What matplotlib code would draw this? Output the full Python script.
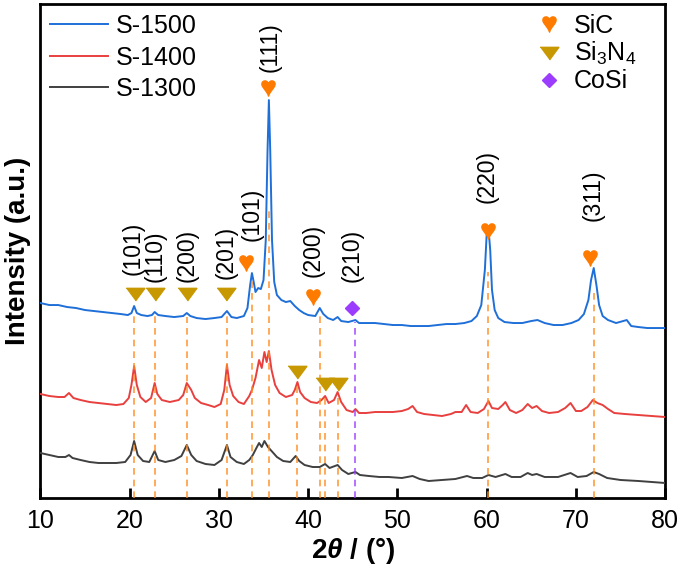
import matplotlib
matplotlib.use('Agg')
import matplotlib.pyplot as plt
from matplotlib.lines import Line2D

plt.rcParams['font.family'] = ['Liberation Sans', 'DejaVu Sans']
plt.rcParams['mathtext.fontset'] = 'custom'
plt.rcParams['mathtext.rm'] = 'Liberation Sans'
plt.rcParams['mathtext.it'] = 'Liberation Sans:italic:bold'

# S-1500 (blue)
tt_1500 = [10.0, 11.0, 12.0, 13.0, 14.0, 15.0, 16.0, 17.0, 18.0, 19.0, 19.8, 20.2, 20.5, 20.8,
           21.3, 22.0, 22.5, 22.8, 23.2, 24.0, 25.0, 26.0, 26.4, 26.8, 27.5, 28.5, 29.5, 30.3,
           30.9, 31.4, 32.0, 32.8, 33.2, 33.5, 33.7, 33.9, 34.1, 34.4, 34.7, 35.0, 35.25, 35.45,
           35.6, 35.75, 35.95, 36.2, 36.5, 37.0, 37.5, 38.0, 38.5, 39.0, 39.5, 40.0, 40.8, 41.3,
           41.7, 42.2, 42.8, 43.3, 43.7, 44.5, 45.3, 45.7, 46.5, 47.5, 48.5, 49.5, 50.5, 51.5,
           52.5, 53.5, 54.5, 55.5, 56.5, 57.5, 58.3, 58.9, 59.4, 59.8, 60.0, 60.2, 60.4, 60.6,
           60.9, 61.3, 62.0, 63.0, 64.0, 65.0, 65.7, 66.5, 67.5, 68.5, 69.5, 70.3, 70.9, 71.4,
           71.7, 72.0, 72.3, 72.6, 73.0, 73.6, 74.5, 75.3, 75.7, 76.2, 77.0, 78.0, 79.0, 80.0]
int_1500 = [195, 193, 193, 191, 190, 188, 187, 186, 185, 184, 183, 185, 192, 185,
            183, 182, 183, 186, 183, 182, 181, 182, 185, 182, 180, 179, 180, 181,
            187, 181, 180, 182, 190, 213, 225, 216, 206, 210, 209, 218, 258, 348,
            398, 348, 258, 216, 203, 198, 196, 197, 192, 188, 185, 183, 182, 190,
            184, 180, 178, 181, 177, 176, 178, 175, 175, 175, 174, 173, 173, 172,
            172, 172, 173, 174, 174, 175, 177, 182, 193, 228, 263, 270, 248, 208,
            188, 180, 176, 175, 175, 177, 178, 175, 173, 173, 175, 178, 184, 198,
            218, 230, 213, 193, 182, 178, 175, 177, 178, 172, 171, 170, 170, 170]

# S-1400 (red)
tt_1400 = [10.0, 11.0, 12.0, 12.7, 13.2, 13.7, 14.5, 15.5, 16.5, 17.5, 18.5, 19.3, 19.9, 20.2,
           20.5, 20.8, 21.2, 21.8, 22.4, 22.8, 23.1, 23.6, 24.5, 25.5, 26.0, 26.4, 26.9, 27.3,
           28.0, 28.8, 29.5, 30.2, 30.6, 30.9, 31.2, 31.6, 32.2, 32.8, 33.4, 33.7, 34.1, 34.5,
           34.8, 35.1, 35.35, 35.6, 35.9, 36.3, 36.8, 37.5, 38.2, 38.5, 38.8, 39.1, 39.6, 40.3,
           41.0, 41.5, 41.9, 42.3, 42.9, 43.3, 43.7, 44.3, 45.0, 45.3, 45.7, 46.5, 47.5, 48.5,
           49.5, 50.5, 51.2, 51.7, 52.2, 53.0, 54.0, 55.0, 56.0, 56.5, 57.2, 57.7, 58.2, 59.0,
           59.7, 60.2, 60.6, 61.3, 61.8, 62.1, 62.6, 63.3, 64.0, 64.6, 65.1, 65.6, 66.2, 67.0,
           68.0, 68.8, 69.4, 70.0, 70.6, 71.3, 71.9, 72.4, 73.0, 73.6, 74.3, 75.5, 77.0, 78.5, 80.0]
int_1400 = [104, 102, 101, 101, 105, 100, 98, 96, 95, 94, 93, 94, 100, 113,
            132, 113, 101, 96, 100, 115, 104, 98, 96, 98, 103, 115, 108, 100,
            95, 93, 91, 94, 108, 133, 113, 102, 96, 94, 102, 108, 120, 138,
            130, 146, 136, 147, 128, 113, 105, 101, 103, 108, 116, 106, 100, 96,
            95, 98, 102, 95, 98, 106, 96, 88, 86, 89, 85, 85, 86, 86,
            86, 87, 89, 92, 86, 84, 83, 82, 84, 86, 86, 93, 86, 85,
            89, 97, 90, 89, 93, 96, 88, 85, 88, 94, 90, 92, 87, 85,
            86, 90, 95, 87, 87, 91, 98, 95, 93, 89, 85, 84, 83, 82, 81]

# S-1300 (black)
tt_1300 = [10.0, 11.0, 12.0, 12.8, 13.2, 13.6, 14.5, 15.5, 16.5, 17.5, 18.5, 19.5, 20.1, 20.5,
           20.9, 21.5, 22.2, 22.8, 23.2, 24.0, 25.0, 25.8, 26.4, 26.9, 27.5, 28.5, 29.5, 30.3,
           30.9, 31.3, 32.0, 32.8, 33.4, 33.8, 34.2, 34.5, 34.8, 35.1, 35.5, 36.0, 36.5, 37.2,
           38.0, 38.6, 39.0, 39.6, 40.5, 41.3, 41.9, 42.4, 43.3, 43.8, 44.5, 45.3, 45.8, 46.8,
           48.0, 49.0, 50.5, 51.7, 52.5, 53.5, 55.0, 56.5, 57.8, 58.5, 59.5, 60.2, 61.0, 62.1,
           62.8, 63.8, 64.6, 65.1, 65.6, 66.5, 68.0, 69.4, 70.2, 71.2, 72.0, 72.6, 73.5, 75.0,
           77.0, 78.5, 80.0]
int_1300 = [45, 43, 41, 41, 43, 40, 38, 36, 35, 35, 35, 36, 43, 57,
            43, 37, 36, 47, 38, 36, 38, 42, 53, 43, 37, 34, 33, 38,
            53, 41, 36, 34, 38, 43, 50, 55, 51, 57, 51, 46, 41, 37,
            36, 42, 37, 33, 31, 31, 34, 30, 33, 28, 24, 26, 23, 22,
            21, 21, 20, 22, 19, 17, 18, 19, 22, 20, 20, 23, 21, 24,
            21, 21, 25, 23, 24, 21, 21, 25, 21, 22, 26, 24, 20, 18,
            17, 16, 15]

# reference lines: position, top
ref_pos = [20.5, 22.8, 26.4, 30.9, 33.7, 35.6, 38.8, 41.3, 41.9, 43.3, 60.2, 72.0]
ref_top = [185, 182, 181, 182, 221, 290, 115, 186, 101, 101, 226, 208]
cosi_pos = [45.3]
cosi_top = [176]

# phase markers
sic_x = [33.0, 35.5, 40.55, 60.1, 71.6]
sic_y = [235, 410, 201, 267, 240]
si3n4_x = [20.6, 22.8, 26.4, 30.8, 38.7, 41.9, 43.3]
si3n4_y = [205, 205, 205, 205, 127, 115, 115]
cosi_x = [44.9]
cosi_y = [190]

# hkl labels
hkl_text = ['(101)', '(110)', '(200)', '(201)', '(101)', '(111)', '(200)', '(210)', '(220)', '(311)']
hkl_x = [20.4, 22.8, 26.4, 30.8, 33.7, 35.7, 40.6, 44.9, 60.1, 71.9]
hkl_y = [250, 242, 243, 246, 284, 451, 248, 243, 322, 303]

c_blue = '#1f6fd8'
c_red = '#e8403f'
c_black = '#404040'
c_orange = '#ff7b00'
c_dash = '#ff8a1e'
c_gold = '#c89800'
c_purple = '#9b3cff'

fig = plt.figure(figsize=(6.85, 5.69), dpi=100)
ax = fig.add_axes([0.059, 0.1248, 0.912, 0.868])

ax.plot(tt_1500, int_1500, color=c_blue, lw=1.4, zorder=3)
ax.plot(tt_1400, int_1400, color=c_red, lw=1.4, zorder=3)
ax.plot(tt_1300, int_1300, color=c_black, lw=1.4, zorder=3)

for p, t in zip(ref_pos, ref_top):
    ax.plot([p, p], [0, t], color=c_dash, lw=1.2, ls=(0, (4, 3)), alpha=0.85, zorder=4)
for p, t in zip(cosi_pos, cosi_top):
    ax.plot([p, p], [0, t], color=c_purple, lw=1.2, ls=(0, (4, 3)), alpha=0.85, zorder=4)

tri = [(-1, 0.55), (1, 0.55), (0, -0.8)]
heart = '$\u2665$'
ax.plot(sic_x, sic_y, ls='none', marker=heart, ms=11, color=c_orange, zorder=5)
ax.plot(si3n4_x, si3n4_y, ls='none', marker=tri, ms=13.5, color=c_gold, zorder=5)
ax.plot(cosi_x, cosi_y, ls='none', marker='D', ms=7, color=c_purple, zorder=5)

for s, x, y in zip(hkl_text, hkl_x, hkl_y):
    ax.text(x, y, s, rotation=90, ha='center', va='center', fontsize=16.5)

ax.set_xlim(10, 80)
ax.set_ylim(0, 494)
ax.set_yticks([])
ax.set_xticks(range(10, 81, 10))
ax.tick_params(axis='x', direction='in', length=7, width=2, labelsize=18, pad=8)
for sp in ax.spines.values():
    sp.set_linewidth(2)
ax.set_xlabel(r'2$\theta$ / (°)', fontsize=20, fontweight='bold', labelpad=2)
ax.set_ylabel('Intensity (a.u.)', fontsize=20, fontweight='bold', labelpad=7)

h1 = [Line2D([], [], color=c, lw=1.4) for c in (c_blue, c_red, c_black)]
leg1 = ax.legend(h1, ['S-1500', 'S-1400', 'S-1300'], loc='upper left', frameon=False,
                 fontsize=18, handlelength=2.3, handletextpad=0.3, labelspacing=0.3,
                 borderaxespad=0.0, bbox_to_anchor=(0.0, 1.0))
ax.add_artist(leg1)
h2 = [Line2D([], [], ls='none', marker=heart, ms=11, color=c_orange),
      Line2D([], [], ls='none', marker=tri, ms=13.5, color=c_gold),
      Line2D([], [], ls='none', marker='D', ms=7, color=c_purple)]
ax.legend(h2, ['SiC', 'Si$_3$N$_4$', 'CoSi'], loc='upper right', frameon=False,
          fontsize=18, handlelength=1.0, handletextpad=0.5, labelspacing=0.08,
          borderaxespad=0.0, bbox_to_anchor=(0.97, 1.0))

fig.savefig('out.png', dpi=100)
